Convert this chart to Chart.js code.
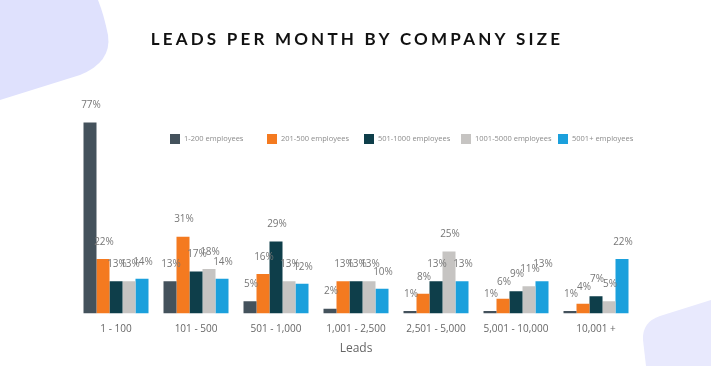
<!DOCTYPE html>
<html>
<head>
<meta charset="utf-8">
<script src="https://cdn.jsdelivr.net/npm/chart.js@4.4.0/dist/chart.umd.min.js"></script>
<style>
html,body{margin:0;padding:0;background:#fff;}
#wrap{position:relative;width:711px;height:366px;overflow:hidden;}
#bg{position:absolute;left:0;top:0;}
canvas{position:absolute;left:0;top:0;}
</style>
</head>
<body>
<div id="wrap">
<svg id="bg" width="711" height="366">
  <path d="M0,0 L98,0 Q104,15 108,35 Q112,62 80,75 L0,100 Z" fill="#dfe1fd"/>
  <path d="M711,300 L660,316 Q642,322 643,340 L646,366 L711,366 Z" fill="#e8e9fd"/>
</svg>
<canvas id="c" width="711" height="366"></canvas>
</div>
<script>
const categories = ["1 - 100","101 - 500","501 - 1,000","1,001 - 2,500","2,501 - 5,000","5,001 - 10,000","10,001 +"];
const seriesNames = ["1-200 employees","201-500 employees","501-1000 employees","1001-5000 employees","5001+ employees"];
const s1 = [77,13,5,2,1,1,1];
const s2 = [22,31,16,13,8,6,4];
const s3 = [13,17,29,13,13,9,7];
const s4 = [13,18,13,13,25,11,5];
const s5 = [14,14,12,10,13,13,22];
const colors = ["#44525c","#f47a20","#0e3e4a","#c6c4c2","#1ba0dc"];
const chartTitle = "LEADS PER MONTH BY COMPANY SIZE";
const xTitle = "Leads";

const seriesValues = [s1,s2,s3,s4,s5];

const titlePlugin = {
  id:'customTitle',
  afterDraw(chart){
    const ctx = chart.ctx;
    ctx.save();
    ctx.font = "bold 17px Lato";
    ctx.fillStyle = "#111";
    ctx.textAlign = "center";
    ctx.textBaseline = "middle";
    if ('letterSpacing' in ctx) ctx.letterSpacing = "3.2px";
    ctx.fillText(chartTitle, 357, 40);
    ctx.restore();
  }
};

const legendPlugin = {
  id:'customLegend',
  afterDraw(chart){
    const ctx = chart.ctx;
    ctx.save();
    ctx.font = "7.5px 'Open Sans'";
    ctx.textBaseline = "middle";
    ctx.textAlign = "left";
    chart.data.datasets.forEach((ds,i)=>{
      const x = 170 + i*97, y = 139;
      ctx.fillStyle = ds.backgroundColor;
      ctx.fillRect(x, y-5, 10, 10);
      ctx.fillStyle = "#8c8c8c";
      ctx.fillText(ds.label, x+14, y);
    });
    ctx.restore();
  }
};

const labelPlugin = {
  id:'valueLabels',
  afterDatasetsDraw(chart){
    const ctx = chart.ctx;
    ctx.save();
    ctx.font = "10px 'Open Sans'";
    ctx.fillStyle = "#777";
    ctx.textAlign = "center";
    ctx.textBaseline = "middle";
    chart.data.datasets.forEach((ds,i)=>{
      const meta = chart.getDatasetMeta(i);
      meta.data.forEach((bar,j)=>{
        ctx.fillText(ds.data[j] + "%", bar.x + 1, bar.y - 17);
      });
    });
    ctx.restore();
  }
};

new Chart(document.getElementById('c'), {
  type:'bar',
  data:{
    labels: categories,
    datasets: seriesNames.map((n,i)=>({
      label:n,
      data:seriesValues[i],
      backgroundColor:colors[i],
      borderWidth:0,
      categoryPercentage:0.8125,
      barPercentage:1
    }))
  },
  options:{
    responsive:false,
    animation:false,
    devicePixelRatio:1,
    layout:{padding:{left:76,right:75,top:115,bottom:10}},
    plugins:{legend:{display:false},title:{display:false},tooltip:{enabled:false}},
    scales:{
      x:{
        grid:{display:false},
        border:{display:false},
        ticks:{color:"#666",font:{family:"'Open Sans'",size:10},padding:2,maxRotation:0},
        title:{display:true,text:xTitle,color:"#666",font:{family:"'Open Sans'",size:12},padding:{top:4,bottom:0}}
      },
      y:{
        display:false,
        min:0,max:80
      }
    }
  },
  plugins:[titlePlugin,legendPlugin,labelPlugin]
});
</script>
</body>
</html>
